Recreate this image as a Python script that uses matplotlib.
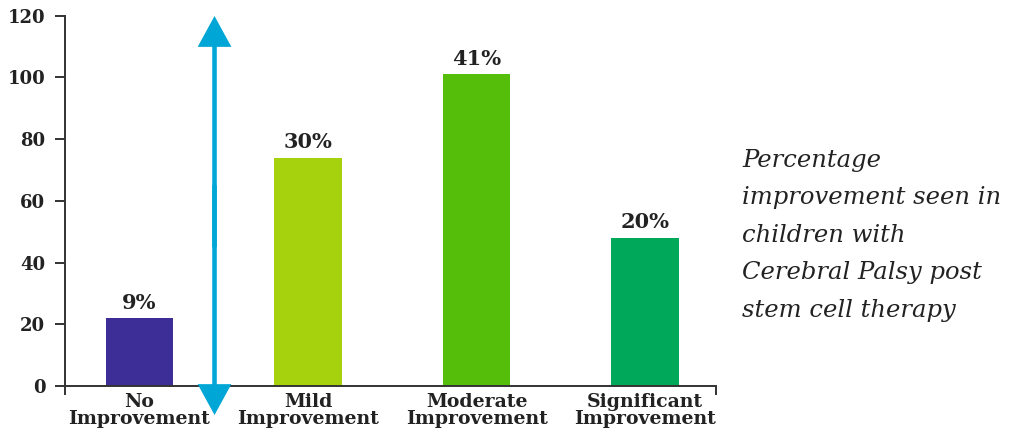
import matplotlib
matplotlib.use("Agg")
import matplotlib.pyplot as plt
from matplotlib.patches import FancyArrow

categories = ["No\nImprovement", "Mild\nImprovement", "Moderate\nImprovement", "Significant\nImprovement"]
values = [22, 74, 101, 48]
pct_labels = ["9%", "30%", "41%", "20%"]
colors = ["#3D2D96", "#A5D10D", "#55BE0A", "#00A859"]
yticks = [0, 20, 40, 60, 80, 100, 120]
side_text = "Percentage\nimprovement seen in\nchildren with\nCerebral Palsy post\nstem cell therapy"

W, H = 1014, 440
fig = plt.figure(figsize=(W / 100, H / 100), dpi=100)
ax = fig.add_axes([65 / W, 1 - 386 / H, (716 - 65) / W, 370.3 / H])

txt_color = "#222222"
axis_color = "#333333"
serif = ["DejaVu Serif"]

x = list(range(len(categories)))
ax.bar(x, values, width=0.4, color=colors, zorder=2)
for xi, v, lab in zip(x, values, pct_labels):
    ax.text(xi, v + 1.8, lab, ha="center", va="bottom", fontsize=15,
            fontweight="bold", family=serif, color=txt_color)

ax.set_xlim(-0.442, 3.42)
ax.set_ylim(0, 120)
ax.set_yticks(yticks)
ax.set_yticklabels([str(t) for t in yticks], fontsize=13, fontweight="bold",
                   family=serif, color=txt_color)
ax.set_xticks(x)
ax.set_xticklabels(categories, fontsize=13.6, family=serif, fontweight="bold",
                   color=txt_color, linespacing=0.95)
ax.set_xticks([-0.442, 3.42], minor=True)
ax.tick_params(axis="x", which="major", length=0, pad=5)
ax.tick_params(axis="x", which="minor", length=6.5, width=1.4, color=axis_color, direction="out")
ax.tick_params(axis="y", length=7.2, width=1.4, color=axis_color, direction="out", pad=7)

for s in ["top", "right"]:
    ax.spines[s].set_visible(False)
for s in ["left", "bottom"]:
    ax.spines[s].set_linewidth(1.4)
    ax.spines[s].set_color(axis_color)

# double-headed arrow built from two overlapping filled arrows
for y0, y1 in [(45, 119.9), (65, -9.4)]:
    arr = FancyArrow(0.445, y0, 0, y1 - y0, width=0.027, head_width=0.2,
                     head_length=10.0, length_includes_head=True,
                     color="#00A6D6", linewidth=0, clip_on=False, zorder=3)
    ax.add_patch(arr)

fig.text(742 / W, 1 - 149 / H, side_text, ha="left", va="top", fontsize=17.5,
         style="italic", family=serif, color=txt_color, linespacing=1.8)

fig.savefig("out.png", dpi=100)
